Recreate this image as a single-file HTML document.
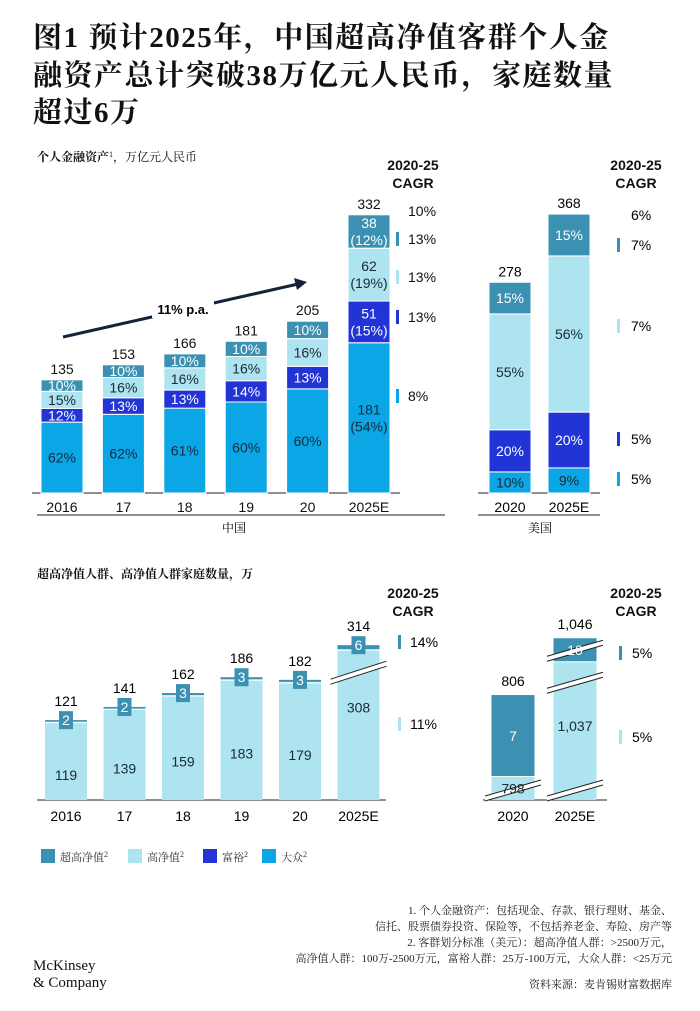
<!DOCTYPE html>
<html><head><meta charset="utf-8">
<style>
body{margin:0;background:#fff;}
svg{display:block;font-family:"Liberation Sans","Noto Sans CJK SC",sans-serif;}
.cn{font-family:"Liberation Serif","Noto Serif CJK SC",serif;}
</style></head>
<body>
<svg id="chart" width="700" height="1011" viewBox="0 0 700 1011" xmlns="http://www.w3.org/2000/svg">
<g class="cn" font-weight="bold" font-size="29" fill="#111" letter-spacing="1.5">
<text x="33" y="47">图1 预计2025年，中国超高净值客群个人金</text>
<text x="33" y="85">融资产总计突破38万亿元人民币，家庭数量</text>
<text x="33" y="122">超过6万</text>
</g>
<text class="cn" x="37" y="161" font-size="12" fill="#111"><tspan font-weight="bold">个人金融资产</tspan><tspan font-size="8" dy="-4">1</tspan><tspan dy="4">，万亿元人民币</tspan></text>
<text class="cn" x="37" y="578" font-size="12" font-weight="bold" fill="#111">超高净值人群、高净值人群家庭数量，万</text>
<g id="topg"></g><g id="us"></g><g id="bot"></g><g id="botus"></g>
<g font-weight="bold" font-size="14" fill="#111" text-anchor="middle">
<text x="413" y="170">2020-25</text><text x="413" y="188">CAGR</text>
<text x="636" y="170">2020-25</text><text x="636" y="188">CAGR</text>
<text x="413" y="598">2020-25</text><text x="413" y="616">CAGR</text>
<text x="636" y="598">2020-25</text><text x="636" y="616">CAGR</text>
</g>
<line x1="37" y1="515" x2="445" y2="515" stroke="#222"/>
<text class="cn" x="234" y="532" font-size="12" text-anchor="middle">中国</text>
<line x1="478" y1="515" x2="600" y2="515" stroke="#222"/>
<text class="cn" x="540" y="532" font-size="12" text-anchor="middle">美国</text>
<g id="legend" font-size="11" class="cn"></g>
<g class="cn" font-size="11" fill="#222" text-anchor="end">
<text x="672" y="914">1. 个人金融资产：包括现金、存款、银行理财、基金、</text>
<text x="672" y="930">信托、股票债券投资、保险等，不包括养老金、寿险、房产等</text>
<text x="672" y="946">2. 客群划分标准（美元）：超高净值人群：&gt;2500万元，</text>
<text x="672" y="962">高净值人群：100万-2500万元，富裕人群：25万-100万元，大众人群：&lt;25万元</text>
<text x="672" y="988">资料来源：麦肯锡财富数据库</text>
</g>
<g font-family="Liberation Serif,serif" font-size="15" fill="#111">
<text x="33" y="970">McKinsey</text><text x="33" y="987">&amp; Company</text>
</g>
<g id="arrowg">
<line x1="63" y1="337" x2="298" y2="284" stroke="#14233a" stroke-width="3"/>
<polygon points="307,282 294,278 297,290" fill="#14233a"/>
<rect x="152" y="301" width="62" height="17" fill="#fff"/>
<text x="183" y="314" font-size="13" font-weight="bold" text-anchor="middle">11% p.a.</text>
</g>
</svg>
<script>
// ---- Top China chart data (percent shares, bottom-up) ----
const topYears = ["2016","17","18","19","20","2025E"];
const topTotals = [135,153,166,181,205,332];
const massPct = [62,62,61,60,60,54];
const affluentPct = [12,13,13,14,13,15];
const hnwPct = [15,16,16,16,16,19];
const uhnwPct = [10,10,10,10,10,12];
const values2025 = [181,51,62,38];
const cagrCN = ["10%","13%","13%","13%","8%"];
// ---- US chart data ----
const usYears = ["2020","2025E"];
const usTotals = [278,368];
const usMass = [10,9];
const usAffluent = [20,20];
const usHnw = [55,56];
const usUhnw = [15,15];
const cagrUS = ["6%","7%","7%","5%","5%"];
// ---- Bottom households data ----
const hhYears = ["2016","17","18","19","20","2025E"];
const hhHnw = [119,139,159,183,179,308];
const hhUhnw = [2,2,3,3,3,6];
const hhTotals = [121,141,162,186,182,314];
const cagrHH = ["14%","11%"];
const usHhYears = ["2020","2025E"];
const usHhHnw = [798,1037];
const usHhUhnw = [7,10];
const usHhTotals = [806,1046];
const cagrUSHH = ["5%","5%"];

const C = {mass:"#0ba6e6", aff:"#2234d6", hnw:"#aee4ef", uhnw:"#3c90b2"};
const NS = "http://www.w3.org/2000/svg";
const FS = 14;
function el(tag, attrs, parent, txt){const e=document.createElementNS(NS,tag);for(const k in attrs)e.setAttribute(k,attrs[k]);if(txt!==undefined)e.textContent=txt;parent.appendChild(e);return e;}

const topBase=493, topK=0.838;
const topX = i => 62 + i*61.4;
const topH = v => v*topK;
const usBase=493, usK=0.758;
const usX = i => 510 + i*59;
const hhBase=800, hhK=0.66;
const hhX = i => 66 + i*58.5;
const hhH = v => v<=200 ? v*hhK : 200*hhK + (v-200)*0.2;
const usHhX = i => 513 + i*62;
const usHnwH = v => (v-750)*0.48;
const usUhnwH = (v,broken) => broken ? Math.min(v*11.7,24) : v*11.7;

function segLabel(g,x,y,txt,col){
  const lines = txt.split("\n");
  lines.forEach((l,j)=>{
    const t=el("text",{x:x,y:y+5+(j-(lines.length-1)/2)*17,"font-size":FS,"text-anchor":"middle",fill:col},g,l);
    
    
  });
}

// Top China
const topG=document.getElementById("topg");
el("line",{x1:32,y1:topBase,x2:400,y2:topBase,stroke:"#222"},topG);
topYears.forEach((yr,i)=>{
  const pcts=[massPct[i],affluentPct[i],hnwPct[i],uhnwPct[i]];
  const sum=pcts.reduce((a,b)=>a+b,0);
  const cols=[C.mass,C.aff,C.hnw,C.uhnw];
  const tcol=["#1b2838","#fff","#1b2838","#fff"];
  const x=topX(i), w=42;
  let y=topBase;
  const g=el("g",{},topG);
  
  
  pcts.forEach((p,s)=>{
    const h=topH(topTotals[i]*p/sum);
    y-=h;
    const r=el("rect",{x:x-w/2,y:y,width:w,height:h,fill:cols[s],stroke:"#fff","stroke-width":1},g);
    
    
    const lab = yr==="2025E" ? values2025[s]+"\n("+p+"%)" : p+"%";
    segLabel(g,x,y+h/2,lab,tcol[s]);
  });
  const t=el("text",{x:x,y:y-6,"font-size":FS,"text-anchor":"middle",fill:"#111"},g,topTotals[i]);
  
  
  const xl=el("text",{x:x,y:topBase+19,"font-size":FS,"text-anchor":"middle",fill:"#111"},topG,yr);
  
  
});
const cnYs=[216,244,282,322,401], cnMk=[null,C.uhnw,C.hnw,C.aff,C.mass];
cagrCN.forEach((c,j)=>{
  if(cnMk[j]) el("rect",{x:396,y:cnYs[j]-12,width:3,height:14,fill:cnMk[j]},topG);
  const t=el("text",{x:408,y:cnYs[j],"font-size":14,fill:"#111"},topG,c);
  
  
});

// US
const usG=document.getElementById("us");
el("line",{x1:478,y1:usBase,x2:600,y2:usBase,stroke:"#222"},usG);
usYears.forEach((yr,i)=>{
  const pcts=[usMass[i],usAffluent[i],usHnw[i],usUhnw[i]];
  const sum=pcts.reduce((a,b)=>a+b,0);
  const cols=[C.mass,C.aff,C.hnw,C.uhnw];
  const tcol=["#1b2838","#fff","#1b2838","#fff"];
  const x=usX(i), w=42; let y=usBase;
  const g=el("g",{},usG);
  
  
  pcts.forEach((p,s)=>{
    const h=usTotals[i]*p/sum*usK; y-=h;
    const r=el("rect",{x:x-w/2,y:y,width:w,height:h,fill:cols[s],stroke:"#fff","stroke-width":1},g);
    
    
    segLabel(g,x,y+h/2,p+"%",tcol[s]);
  });
  const t=el("text",{x:x,y:y-6,"font-size":FS,"text-anchor":"middle"},g,usTotals[i]);
  
  
  const xl=el("text",{x:x,y:usBase+19,"font-size":FS,"text-anchor":"middle"},usG,yr);
  
  
});
const usYs=[220,250,331,444,484];
cagrUS.forEach((c,j)=>{
  if(cnMk[j]) el("rect",{x:617,y:usYs[j]-12,width:3,height:14,fill:cnMk[j]},usG);
  const t=el("text",{x:631,y:usYs[j],"font-size":14},usG,c);
  
  
});

// Bottom households
const botG=document.getElementById("bot");
el("line",{x1:37,y1:hhBase,x2:386,y2:hhBase,stroke:"#222"},botG);
hhYears.forEach((yr,i)=>{
  const x=hhX(i), w=42;
  const hT=hhH(hhTotals[i]);
  const yt=hhBase-hT;
  const g=el("g",{},botG);
  
  
  const r=el("rect",{x:x-w/2,y:yt,width:w,height:hT,fill:C.hnw},g);
  
  
  const uh=Math.max(hhUhnw[i]*hhK,1.5);
  el("rect",{x:x-w/2,y:yt,width:w,height:uh,fill:C.uhnw},g);
  el("line",{x1:x-w/2,y1:yt+uh+1,x2:x+w/2,y2:yt+uh+1,stroke:"#fff"},g);
  if(hhTotals[i]>200){
    const by=yt+24;
    el("polygon",{points:`${x-28},${by+10} ${x+28},${by-8} ${x+28},${by-3} ${x-28},${by+15}`,fill:"#fff"},g);
    el("line",{x1:x-28,y1:by+10,x2:x+28,y2:by-8,stroke:"#222"},g);
    el("line",{x1:x-28,y1:by+15,x2:x+28,y2:by-3,stroke:"#222"},g);
  }
  const bx=el("rect",{x:x-7,y:yt-9,width:14,height:18,fill:C.uhnw},g);
  
  
  el("text",{x:x,y:yt+5,"font-size":FS,"text-anchor":"middle",fill:"#fff"},g,hhUhnw[i]);
  el("text",{x:x,y:yt-14,"font-size":FS,"text-anchor":"middle"},g,hhTotals[i]);
  el("text",{x:x,y:yt+(hhBase-yt)/2+(yr==="2025E"?-10:20),"font-size":FS,"text-anchor":"middle",fill:"#1b2838"},g,hhHnw[i]);
  const xl=el("text",{x:x,y:hhBase+21,"font-size":FS,"text-anchor":"middle"},botG,yr);
  
  
});
[[647,C.uhnw],[729,C.hnw]].forEach((m,j)=>{
  el("rect",{x:398,y:m[0]-12,width:3,height:14,fill:m[1]},botG);
  const t=el("text",{x:410,y:m[0],"font-size":14},botG,cagrHH[j]);
  
  
});

// Bottom US households
const buG=document.getElementById("botus");
el("line",{x1:483,y1:hhBase,x2:607,y2:hhBase,stroke:"#222"},buG);
usHhYears.forEach((yr,i)=>{
  const x=usHhX(i), w=43;
  const broken=i===1;
  const hh=usHnwH(usHhHnw[i]), uh=usUhnwH(usHhUhnw[i],broken);
  const y1=hhBase-hh, y0=y1-uh;
  const g=el("g",{},buG);
  
  
  const r1=el("rect",{x:x-w/2,y:y1,width:w,height:hh,fill:C.hnw},g);
  
  
  const r2=el("rect",{x:x-w/2,y:y0,width:w,height:uh-1,fill:C.uhnw},g);
  
  
  const brk = by => {
    el("polygon",{points:`${x-28},${by+8} ${x+28},${by-8} ${x+28},${by-3} ${x-28},${by+13}`,fill:"#fff"},g);
    el("line",{x1:x-28,y1:by+8,x2:x+28,y2:by-8,stroke:"#222"},g);
    el("line",{x1:x-28,y1:by+13,x2:x+28,y2:by-3,stroke:"#222"},g);
  };
  brk(hhBase-12);
  if(broken){ brk(y0+10); brk(y1+18); }
  el("text",{x:x,y:y0+uh/2+5,"font-size":FS,"text-anchor":"middle",fill:"#fff"},g,usHhUhnw[i]);
  el("text",{x:x,y:y1+hh/2+(broken?0:5),"font-size":FS,"text-anchor":"middle",fill:"#1b2838"},g,usHhHnw[i].toLocaleString("en-US"));
  el("text",{x:x,y:y0-9,"font-size":FS,"text-anchor":"middle"},g,usHhTotals[i].toLocaleString("en-US"));
  const xl=el("text",{x:x,y:hhBase+21,"font-size":FS,"text-anchor":"middle"},buG,yr);
  
  
});
[[658,C.uhnw],[742,C.hnw]].forEach((m,j)=>{
  el("rect",{x:619,y:m[0]-12,width:3,height:14,fill:m[1]},buG);
  const t=el("text",{x:632,y:m[0],"font-size":14},buG,cagrUSHH[j]);
  
  
});

// Legend
const legNames=["超高净值","高净值","富裕","大众"];
const legCols=[C.uhnw,C.hnw,C.aff,C.mass];
const legX=[41,128,203,262];
const lg=document.getElementById("legend");
legNames.forEach((n,j)=>{
  const g=el("g",{},lg);
  
  
  el("rect",{x:legX[j],y:849,width:14,height:14,fill:legCols[j]},g);
  const t=el("text",{x:legX[j]+19,y:861,fill:"#333"},g,n);
  el("tspan",{"font-size":8,dy:-4},t,"2");
});
</script>
</body></html>
